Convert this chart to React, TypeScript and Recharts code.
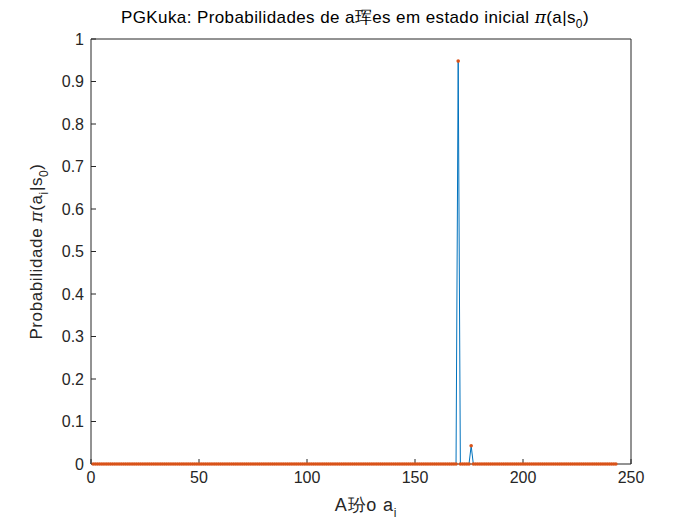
import React from "react";
import { LineChart, Line, XAxis, YAxis } from "recharts";

// Probability of each action a_i (i = 1..243) in the initial state s_0
const probs: number[] = [
  0, 0, 0, 0, 0, 0, 0, 0, 0, 0, 0, 0, 0, 0, 0, 0, 0, 0, 0, 0,
  0, 0, 0, 0, 0, 0, 0, 0, 0, 0, 0, 0, 0, 0, 0, 0, 0, 0, 0, 0,
  0, 0, 0, 0, 0, 0, 0, 0, 0, 0, 0, 0, 0, 0, 0, 0, 0, 0, 0, 0,
  0, 0, 0, 0, 0, 0, 0, 0, 0, 0, 0, 0, 0, 0, 0, 0, 0, 0, 0, 0,
  0, 0, 0, 0, 0, 0, 0, 0, 0, 0, 0, 0, 0, 0, 0, 0, 0, 0, 0, 0,
  0, 0, 0, 0, 0, 0, 0, 0, 0, 0, 0, 0, 0, 0, 0, 0, 0, 0, 0, 0,
  0, 0, 0, 0, 0, 0, 0, 0, 0, 0, 0, 0, 0, 0, 0, 0, 0, 0, 0, 0,
  0, 0, 0, 0, 0, 0, 0, 0, 0, 0, 0, 0, 0, 0, 0, 0, 0, 0, 0, 0,
  0, 0, 0, 0, 0, 0, 0, 0, 0, 0.948, 0, 0, 0, 0, 0, 0.043, 0, 0, 0, 0,
  0, 0, 0, 0, 0, 0, 0, 0, 0, 0, 0, 0, 0, 0, 0, 0, 0, 0, 0, 0,
  0, 0, 0, 0, 0, 0, 0, 0, 0, 0, 0, 0, 0, 0, 0, 0, 0, 0, 0, 0,
  0, 0, 0, 0, 0, 0, 0, 0, 0, 0, 0, 0, 0, 0, 0, 0, 0, 0, 0, 0,
  0, 0, 0,
];

const xTicks = [0, 50, 100, 150, 200, 250];
const yTicks = [0, 0.1, 0.2, 0.3, 0.4, 0.5, 0.6, 0.7, 0.8, 0.9, 1];

const data = probs.map((p, i) => ({ a: i + 1, p }));

const AX = "#262626";
const FONT = "'Liberation Sans', Arial, Helvetica, sans-serif";

const TitleLabel = (props: any) => {
  const vb = props.viewBox || { x: 91, width: 541, y: 0, height: 39 };
  const cx = vb.x + vb.width / 2;
  return (
    <text x={cx - 6} y={23} textAnchor="middle" fontFamily={FONT} fontSize={17} letterSpacing={0.4} fill="#000">
      <tspan>PGKuka: Probabilidades de a珲es em estado inicial </tspan>
      <tspan fontFamily="'DejaVu Serif', serif" fontStyle="italic">π</tspan>
      <tspan>(a|s</tspan>
      <tspan dy={5} fontSize={12}>0</tspan>
      <tspan dy={-5}>)</tspan>
    </text>
  );
};

const XLabel = (props: any) => {
  const vb = props.viewBox || { x: 91, width: 541, y: 464, height: 61 };
  const cx = vb.x + vb.width / 2;
  return (
    <text x={cx + 5} y={vb.y + 47} textAnchor="middle" fontFamily={FONT} fontSize={18} letterSpacing={0.8} fill={AX}>
      <tspan>A玢o a</tspan>
      <tspan dy={6} fontSize={12}>i</tspan>
    </text>
  );
};

const YLabel = (props: any) => {
  const vb = props.viewBox || { x: 0, width: 91, y: 39, height: 425 };
  const cy = vb.y + vb.height / 2;
  const x = 42;
  return (
    <text x={x} y={cy} textAnchor="middle" fontFamily={FONT} fontSize={17} letterSpacing={0.6} fill={AX} transform={`rotate(-90, ${x}, ${cy})`}>
      <tspan>Probabilidade </tspan>
      <tspan fontFamily="'DejaVu Serif', serif" fontStyle="italic">π</tspan>
      <tspan>(a</tspan>
      <tspan dy={6} fontSize={12}>i</tspan>
      <tspan dy={-6}>|s</tspan>
      <tspan dy={6} fontSize={12}>0</tspan>
      <tspan dy={-6}>)</tspan>
    </text>
  );
};

const fmtY = (v: number) => (v === 0 ? "0" : v === 1 ? "1" : v.toFixed(1));

export default function App() {
  return (
    <div style={{ position: "absolute", left: 0, top: 0, width: 700, height: 525, background: "#fff" }}>
      <LineChart
        width={700}
        height={525}
        data={data}
        margin={{ top: 0, right: 0, bottom: 0, left: 0 }}
      >
        <XAxis
          dataKey="a"
          type="number"
          domain={[0, 250]}
          ticks={xTicks}
          allowDataOverflow
          height={61}
          stroke={AX}
          tickSize={-5}
          tickMargin={13}
          tick={{ fill: AX, fontSize: 16, fontFamily: FONT }}
          label={<XLabel />}
        />
        <XAxis
          xAxisId="top"
          orientation="top"
          dataKey="a"
          type="number"
          domain={[0, 250]}
          ticks={xTicks}
          height={39}
          stroke={AX}
          tickSize={-5}
          tick={false}
          label={<TitleLabel />}
        />
        <YAxis
          type="number"
          domain={[0, 1]}
          ticks={yTicks}
          width={91}
          stroke={AX}
          tickSize={-5}
          tickMargin={12}
          tickFormatter={fmtY}
          tick={{ fill: AX, fontSize: 16, fontFamily: FONT }}
          label={<YLabel />}
        />
        <YAxis
          yAxisId="right"
          orientation="right"
          type="number"
          domain={[0, 1]}
          ticks={yTicks}
          width={69}
          stroke={AX}
          tickSize={-5}
          tick={false}
        />
        <Line
          dataKey="p"
          stroke="#0072BD"
          strokeWidth={1}
          isAnimationActive={false}
          dot={false}
          activeDot={false}
        />
        <Line
          dataKey="p"
          stroke="none"
          isAnimationActive={false}
          dot={{ r: 1.8, fill: "#D95319", stroke: "none" }}
          activeDot={false}
        />
      </LineChart>
    </div>
  );
}
